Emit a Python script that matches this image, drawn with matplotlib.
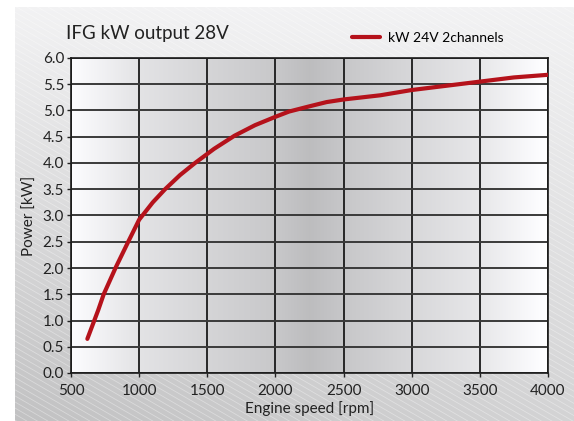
"""IFG kW output 28V - power curve"""
import matplotlib
matplotlib.use('Agg')
import matplotlib.pyplot as plt
import numpy as np

# Datos
rpm = [620, 700, 740, 830, 920, 1000, 1100, 1190, 1300, 1410, 1550, 1700,
       1850, 2000, 2100, 2250, 2375, 2500, 2770, 3000, 3250, 3500, 3750, 4000]
power_kw = [0.65, 1.20, 1.50, 2.02, 2.50, 2.92, 3.25, 3.50, 3.77, 4.00, 4.27, 4.52,
            4.72, 4.88, 4.98, 5.08, 5.16, 5.21, 5.29, 5.39, 5.47, 5.55, 5.63, 5.68]
x_ticks = [500, 1000, 1500, 2000, 2500, 3000, 3500, 4000]
y_ticks = [0.0, 0.5, 1.0, 1.5, 2.0, 2.5, 3.0, 3.5, 4.0, 4.5, 5.0, 5.5, 6.0]
series_name = 'kW 24V 2channels'

plt.rcParams['font.family'] = ['Lato', 'DejaVu Sans']

fig = plt.figure(figsize=(5.74, 4.21), dpi=100)
fig.patch.set_facecolor('white')

# Fondo gris con degradado y rayas diagonales (en pixeles)
W, H = 559, 414
bg = fig.add_axes([15 / 574, 0, W / 574, H / 421], zorder=-10)
gy, gx = np.mgrid[0:1:100j, 0:1:100j]
shade = 0.95 - 0.17 * gy + 0.05 * gx * gy - 0.02 * (1 - gx) * gy
rgb = np.dstack([shade, shade, shade * 1.005]).clip(0, 1)
bg.imshow(rgb, aspect='auto', extent=[0, W, 0, H], interpolation='bilinear')
for c in np.arange(-H * 2, W + H, 10.5):
    bg.plot([c, c + H / 0.58], [H, 0], color='white', alpha=0.35, linewidth=0.6)
bg.set_xlim(0, W)
bg.set_ylim(0, H)
bg.set_axis_off()

ax = fig.add_axes([71 / 574, 48 / 421, 477 / 574, 315 / 421])

# Degradado horizontal del area de trazado
xs = np.linspace(500, 4000, 700)
grad = np.interp(xs, [500, 1000, 1500, 2000, 2250, 2500, 3000, 3500, 4000],
                 [0.99, 0.89, 0.835, 0.785, 0.74, 0.78, 0.845, 0.905, 1.0])
img = np.dstack([grad, grad, grad * 1.01]).clip(0, 1)
ax.imshow(img, aspect='auto', extent=[500, 4000, 0, 6], zorder=0,
          interpolation='bilinear')

for xv in x_ticks:
    ax.axvline(xv, color='#1a1a1a', linewidth=1.3, zorder=1)
for yv in y_ticks:
    ax.axhline(yv, color='#3a3a3a', linewidth=1.4, zorder=1)

ax.plot(rpm, power_kw, color='#b5121b', linewidth=3, solid_capstyle='round',
        label=series_name, zorder=3)

ax.set_xlim(500, 4000)
ax.set_ylim(0, 6)
ax.set_xticks(x_ticks)
ax.set_yticks(y_ticks)
ax.set_yticklabels(['%.1f' % v for v in y_ticks])
ax.tick_params(direction='out', length=3, width=1, labelsize=11, colors='#222222')
ax.tick_params(axis='x', pad=5)
ax.tick_params(axis='y', pad=2)
for s in ax.spines.values():
    s.set_color('#1a1a1a')
    s.set_linewidth(1.2)

ax.set_xlabel('Engine speed [rpm]', fontsize=11, color='#222222', labelpad=2)
ax.set_ylabel('Power [kW]', fontsize=11, color='#222222', labelpad=4)

fig.text(66 / 574, 1 - 33 / 421, 'IFG kW output 28V', fontsize=13.5, color='#222222',
         va='center', ha='left')
fig.legend(loc='center left', bbox_to_anchor=(345 / 574, 1 - 38 / 421), frameon=False,
           fontsize=10, handlelength=2.0, handletextpad=0.6, borderpad=0)

fig.savefig('out.png', dpi=100)
